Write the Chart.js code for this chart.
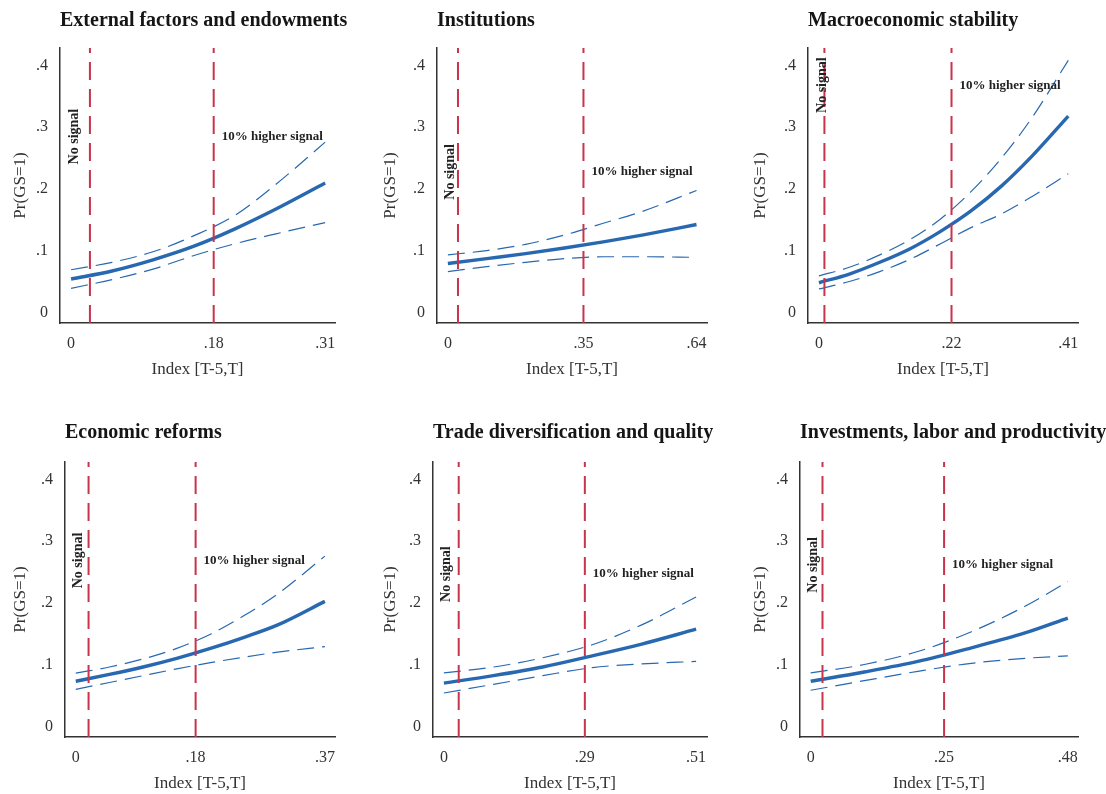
<!DOCTYPE html>
<html>
<head>
<meta charset="utf-8">
<script src="https://cdn.jsdelivr.net/npm/chart.js@4.4.0/dist/chart.umd.min.js"></script>
<style>
  body { margin: 0; background: #fff; width: 1106px; height: 794px; overflow: hidden; position: relative; }
  canvas { position: absolute; }
</style>
</head>
<body>
<canvas id="c0" width="370" height="400" style="left:0;top:0"></canvas>
<canvas id="c1" width="370" height="400" style="left:370px;top:0"></canvas>
<canvas id="c2" width="366" height="400" style="left:740px;top:0"></canvas>
<canvas id="c3" width="370" height="394" style="left:0;top:400px"></canvas>
<canvas id="c4" width="370" height="394" style="left:370px;top:400px"></canvas>
<canvas id="c5" width="366" height="394" style="left:740px;top:400px"></canvas>
<script>
// Panel titles and axis ticks
const titles = [
    "External factors and endowments",
    "Institutions",
    "Macroeconomic stability",
    "Economic reforms",
    "Trade diversification and quality",
    "Investments, labor and productivity",
];
const xTickLabels = [
    ["0", ".18", ".31"],
    ["0", ".35", ".64"],
    ["0", ".22", ".41"],
    ["0", ".18", ".37"],
    ["0", ".29", ".51"],
    ["0", ".25", ".48"],
];
const yTickValues = [0, 0.1, 0.2, 0.3, 0.4];
const yTickLabels = ["0", ".1", ".2", ".3", ".4"];

// Reference lines (index values) and label heights (probability)
const noSignalX = [0.023, 0.026, 0.009, 0.019, 0.030, 0.022];
const higherSignalX = [0.174, 0.349, 0.218, 0.178, 0.285, 0.249];
const labelY = [0.285, 0.228, 0.368, 0.269, 0.247, 0.262];

// Axis limits
const xMin = [-0.0135, -0.028, -0.018, -0.016, -0.022, -0.020];
const xMax = [0.322, 0.667, 0.426, 0.385, 0.532, 0.499];
const yMin = -0.016;
const yMax = 0.428;

// External factors and endowments
const extX = [0, 0.05, 0.1, 0.15, 0.2, 0.25, 0.31];
const extFit = [0.055, 0.068, 0.086, 0.108, 0.136, 0.168, 0.21];
const extHi = [0.070, 0.082, 0.099, 0.125, 0.158, 0.208, 0.276];
const extLo = [0.040, 0.054, 0.071, 0.093, 0.112, 0.128, 0.146];

// Institutions
const instX = [0, 0.1, 0.2, 0.3, 0.4, 0.5, 0.64];
const instFit = [0.080, 0.088, 0.096, 0.105, 0.115, 0.126, 0.143];
const instHi = [0.094, 0.101, 0.111, 0.126, 0.145, 0.164, 0.198];
const instLo = [0.067, 0.075, 0.082, 0.088, 0.091, 0.091, 0.090];

// Macroeconomic stability
const macX = [0, 0.05, 0.1, 0.15, 0.2, 0.25, 0.3, 0.35, 0.41];
const macFit = [0.049, 0.063, 0.082, 0.104, 0.132, 0.165, 0.205, 0.253, 0.318];
const macHi = [0.060, 0.074, 0.094, 0.119, 0.152, 0.196, 0.250, 0.315, 0.408];
const macLo = [0.039, 0.051, 0.067, 0.087, 0.112, 0.138, 0.160, 0.188, 0.225];

// Economic reforms
const refX = [0, 0.05, 0.1, 0.15, 0.2, 0.25, 0.3, 0.37];
const refFit = [0.074, 0.085, 0.097, 0.111, 0.127, 0.145, 0.165, 0.203];
const refHi = [0.087, 0.097, 0.110, 0.127, 0.150, 0.180, 0.215, 0.276];
const refLo = [0.061, 0.072, 0.083, 0.094, 0.104, 0.113, 0.121, 0.130];

// Trade diversification and quality
const tradeX = [0, 0.1, 0.2, 0.3, 0.4, 0.51];
const tradeFit = [0.071, 0.083, 0.097, 0.115, 0.134, 0.158];
const tradeHi = [0.0875, 0.097, 0.112, 0.133, 0.165, 0.210];
const tradeLo = [0.055, 0.069, 0.083, 0.096, 0.102, 0.106];

// Investments, labor and productivity
const invX = [0, 0.1, 0.2, 0.3, 0.4, 0.48];
const invFit = [0.074, 0.089, 0.106, 0.128, 0.152, 0.176];
const invHi = [0.0875, 0.101, 0.122, 0.154, 0.195, 0.235];
const invLo = [0.0595, 0.075, 0.090, 0.103, 0.111, 0.115];

const series = [
    [extX, extFit, extHi, extLo],
    [instX, instFit, instHi, instLo],
    [macX, macFit, macHi, macLo],
    [refX, refFit, refHi, refLo],
    [tradeX, tradeFit, tradeHi, tradeLo],
    [invX, invFit, invHi, invLo],
];

const BLUE = "#2868b0";
const RED = "#c8344b";
const SERIF = '"Liberation Serif", "DejaVu Serif", serif';

// per-panel box sizes (y axis width, right padding)
const yAxisWidth = [60, 67, 68, 65, 63, 60];
const rightPad = [35, 33, 28, 35, 33, 28];

const textPlugin = {
    id: "panelText",
    afterDraw(chart, args, opts) {
        const { ctx, chartArea, scales } = chart;
        const i = opts.index;
        ctx.save();
        ctx.fillStyle = "#151515";
        ctx.textAlign = "left";
        ctx.textBaseline = "alphabetic";
        ctx.font = "bold 20px " + SERIF;
        ctx.fillText(titles[i], chartArea.left, chartArea.top - opts.titleGap);

        const yPx = scales.y.getPixelForValue(labelY[i]);
        ctx.font = "bold 13px " + SERIF;
        ctx.textBaseline = "middle";
        ctx.fillStyle = "#222";
        ctx.fillText("10% higher signal", scales.x.getPixelForValue(higherSignalX[i]) + 8, yPx);

        ctx.translate(scales.x.getPixelForValue(0) + 3, yPx);
        ctx.rotate(-Math.PI / 2);
        ctx.textAlign = "center";
        ctx.font = "bold 14px " + SERIF;
        ctx.fillText("No signal", 0, 0);
        ctx.restore();
    },
};

function vline(x) {
    return {
        data: [{ x: x, y: yMin }, { x: x, y: yMax }],
        borderColor: RED,
        borderWidth: 2,
        borderDash: [18, 9],
        pointRadius: 0,
    };
}

function makePanel(i) {
    const [xs, fit, hi, lo] = series[i];
    const top = i < 3;
    const pts = (ys) => xs.map((x, k) => ({ x: x, y: ys[k] }));
    const ci = (ys) => ({
        data: pts(ys),
        borderColor: BLUE,
        borderWidth: 1.2,
        borderDash: [17, 8],
        pointRadius: 0,
        cubicInterpolationMode: "monotone",
    });

    new Chart(document.getElementById("c" + i), {
        type: "line",
        data: {
            datasets: [
                vline(noSignalX[i]),
                vline(higherSignalX[i]),
                ci(hi),
                ci(lo),
                {
                    data: pts(fit),
                    borderColor: BLUE,
                    borderWidth: 3.4,
                    pointRadius: 0,
                    cubicInterpolationMode: "monotone",
                },
            ],
        },
        options: {
            responsive: false,
            animation: false,
            events: [],
            layout: { padding: { top: top ? 48 : 62, right: rightPad[i], left: 0, bottom: 0 } },
            plugins: {
                legend: { display: false },
                tooltip: { enabled: false },
                panelText: { index: i, titleGap: top ? 22 : 24 },
            },
            scales: {
                x: {
                    type: "linear",
                    min: xMin[i],
                    max: xMax[i],
                    grid: { display: false, drawTicks: false },
                    border: { display: true, color: "#333", width: 1.5 },
                    afterBuildTicks: (s) => {
                        s.ticks = [0, higherSignalX[i], xs[xs.length - 1]].map((v) => ({ value: v }));
                    },
                    afterFit: (s) => {
                        s.height = top ? 77 : 57;
                    },
                    ticks: {
                        autoSkip: false,
                        maxRotation: 0,
                        padding: 11,
                        color: "#333",
                        font: { family: SERIF, size: 16 },
                        callback: (v, idx) => xTickLabels[i][idx],
                    },
                    title: {
                        display: true,
                        text: "Index [T-5,T]",
                        color: "#333",
                        font: { family: SERIF, size: 17 },
                        padding: { top: 0, bottom: top ? 20 : 0 },
                    },
                },
                y: {
                    type: "linear",
                    min: yMin,
                    max: yMax,
                    grid: { display: false, drawTicks: false },
                    border: { display: true, color: "#333", width: 1.5 },
                    afterBuildTicks: (s) => {
                        s.ticks = yTickValues.map((v) => ({ value: v }));
                    },
                    afterFit: (s) => {
                        s.width = yAxisWidth[i];
                    },
                    ticks: {
                        autoSkip: false,
                        padding: 12,
                        color: "#333",
                        font: { family: SERIF, size: 16 },
                        callback: (v, idx) => yTickLabels[idx],
                    },
                    title: {
                        display: true,
                        text: "Pr(GS=1)",
                        color: "#333",
                        font: { family: SERIF, size: 17 },
                        padding: { top: 10, bottom: 0 },
                    },
                },
            },
        },
        plugins: [textPlugin],
    });
}

for (let i = 0; i < 6; i++) makePanel(i);
</script>
</body>
</html>
